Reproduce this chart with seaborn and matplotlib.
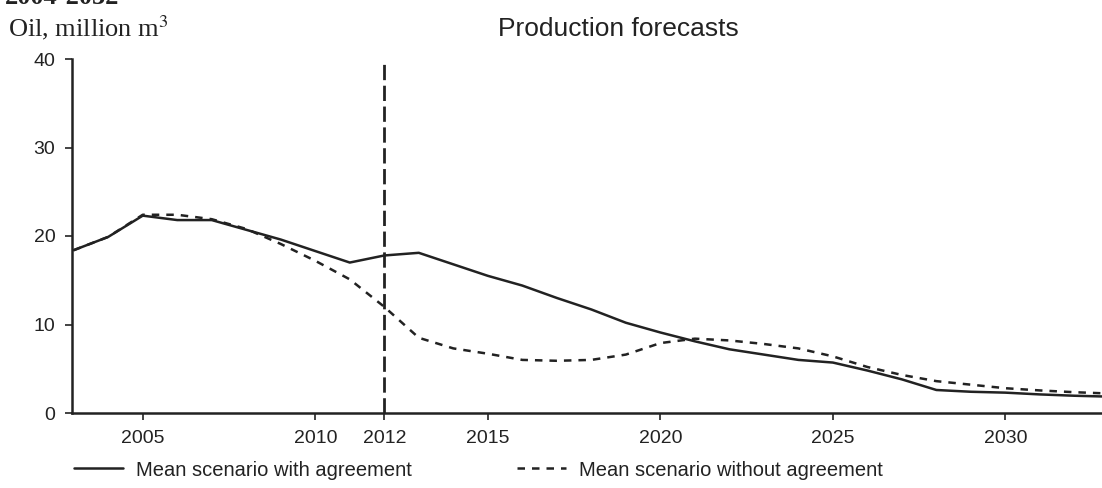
import pandas as pd
import matplotlib.pyplot as plt
import seaborn as sns
from matplotlib.lines import Line2D

# data
years = list(range(2003, 2034))
with_agreement = [18.4, 19.9, 22.3, 21.8, 21.8, 20.7, 19.6, 18.3, 17.0, 17.8,
                  18.1, 16.8, 15.5, 14.4, 13.0, 11.7, 10.2, 9.1, 8.1, 7.2,
                  6.6, 6.0, 5.7, 4.8, 3.8, 2.6, 2.4, 2.3, 2.1, 1.95, 1.85]
without_agreement = [18.4, 19.9, 22.4, 22.4, 21.9, 20.8, 19.1, 17.2, 15.1, 12.0,
                     8.5, 7.3, 6.7, 6.0, 5.9, 6.0, 6.6, 7.9, 8.4, 8.2,
                     7.8, 7.3, 6.4, 5.2, 4.3, 3.6, 3.2, 2.8, 2.55, 2.35, 2.2]
scenarios = ["Mean scenario with agreement", "Mean scenario without agreement"]
x_ticks = [2005, 2010, 2012, 2015, 2020, 2025, 2030]
y_ticks = [0, 10, 20, 30, 40]
forecast_start = 2012

df = pd.DataFrame({
    "year": years + years,
    "oil": with_agreement + without_agreement,
    "scenario": [scenarios[0]] * len(years) + [scenarios[1]] * len(years),
})

sns.set_theme(style="ticks")
plt.rcParams["font.family"] = ["Liberation Sans", "DejaVu Sans"]
plt.rcParams["mathtext.fontset"] = "stix"

ink = "#222222"
serif = ["Liberation Serif", "DejaVu Serif"]
fig = plt.figure(figsize=(11.02, 4.88), dpi=100)
ax = fig.add_axes([72 / 1102, 75 / 488, 1030 / 1102, 354 / 488])

sns.lineplot(data=df, x="year", y="oil", style="scenario",
             dashes={scenarios[0]: "", scenarios[1]: (3, 2.8)},
             color=ink, linewidth=1.8, ax=ax, legend=False)
ax.axvline(forecast_start, color=ink, lw=2, dashes=(5.5, 2))

ax.set_xlim(2002.95, 2032.8)
ax.set_ylim(0, 40)
ax.set_xticks(x_ticks)
ax.set_yticks(y_ticks)
ax.set_xlabel("")
ax.set_ylabel("")
ax.tick_params(direction="out", length=5, width=1.2, color=ink,
               labelcolor=ink, labelsize=14, pad=7)
sns.despine(ax=ax)
for side in ["left", "bottom"]:
    ax.spines[side].set_linewidth(1.8)
    ax.spines[side].set_color(ink)

# titles (the top line is cut by the page edge in the reference)
fig.text(0.004, 1 - 4 / 488, "2004-2032", family=serif,
         fontsize=19, fontweight="bold", color=ink, va="baseline")
fig.text(8 / 1102, 1 - 28 / 488, "Oil, million m$^3$", family=serif,
         fontsize=19, color=ink, va="center", ha="left")
fig.text(618 / 1102, 1 - 29 / 488, "Production forecasts", fontsize=19,
         color=ink, va="center", ha="center")

# legend below the axis
handles = [Line2D([], [], color=ink, lw=1.8),
           Line2D([], [], color=ink, lw=1.8, dashes=(3, 2.8))]
fig.legend(handles, scenarios, loc="center left", bbox_to_anchor=(74 / 1102, 18 / 488),
           ncol=2, frameon=False, fontsize=14.5, handlelength=2.45,
           handletextpad=0.65, columnspacing=5.2, borderaxespad=0, borderpad=0,
           labelcolor=ink)

fig.savefig("out.png", dpi=100)
